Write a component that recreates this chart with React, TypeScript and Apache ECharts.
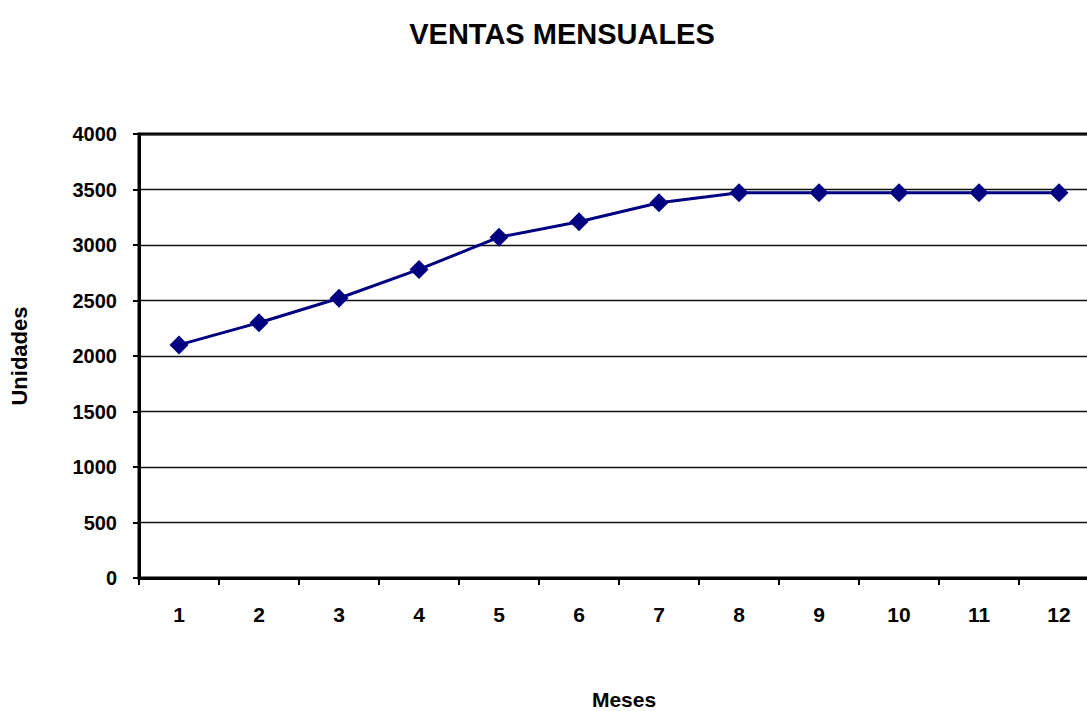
import React, { useEffect, useRef } from "react";
import * as echarts from "echarts";

const titleText = "VENTAS MENSUALES";
const months = ["1", "2", "3", "4", "5", "6", "7", "8", "9", "10", "11", "12"];
const unidades = [2100, 2300, 2520, 2780, 3070, 3210, 3380, 3470, 3470, 3470, 3470, 3470];
const yAxisName = "Unidades";
const xAxisName = "Meses";

const FONT = "'Liberation Sans', Arial, sans-serif";

export default function App() {
  const ref = useRef<HTMLDivElement>(null);
  useEffect(() => {
    if (!ref.current) return;
    const chart = echarts.init(ref.current, null, { renderer: "svg" });
    chart.setOption({
      animation: false,
      backgroundColor: "#ffffff",
      title: {
        text: titleText,
        left: 557,
        textAlign: "center",
        top: 14,
        textStyle: { fontFamily: FONT, fontSize: 29, fontWeight: "bold", color: "#000" },
      },
      grid: {
        left: 139,
        top: 134,
        bottom: 133,
        right: 1,
        show: true,
        borderColor: "#000",
        borderWidth: 3,
        backgroundColor: "transparent",
        outerBoundsMode: "none",
        containLabel: false,
      },
      xAxis: {
        type: "category",
        data: months,
        boundaryGap: true,
        name: xAxisName,
        nameLocation: "middle",
        nameGap: 112,
        nameTextStyle: {
          fontFamily: FONT,
          fontSize: 21,
          lineHeight: 18,
          fontWeight: "bold",
          color: "#000",
          padding: [0, 0, 0, 10],
        },
        axisLine: { lineStyle: { color: "#000", width: 3 } },
        axisTick: { show: true, inside: false, length: 7, alignWithLabel: false, lineStyle: { color: "#000", width: 2 } },
        axisLabel: { margin: 26, fontFamily: FONT, fontSize: 21, fontWeight: "bold", color: "#000" },
        splitLine: { show: false },
      },
      yAxis: {
        type: "value",
        min: 0,
        max: 4000,
        interval: 500,
        name: yAxisName,
        nameLocation: "middle",
        nameGap: 109,
        nameRotate: 90,
        nameTextStyle: { fontFamily: FONT, fontSize: 22, fontWeight: "bold", color: "#000" },
        axisLine: { show: true, lineStyle: { color: "#000", width: 3 } },
        axisTick: { show: true, inside: false, length: 6, lineStyle: { color: "#000", width: 2 } },
        axisLabel: {
          margin: 22,
          fontFamily: FONT,
          fontSize: 20,
          fontWeight: "bold",
          color: "#000",
          formatter: (v: number) => String(v),
        },
        splitLine: { show: true, lineStyle: { color: "#111", width: 1.3 } },
      },
      series: [
        {
          type: "line",
          data: unidades,
          symbol: "diamond",
          symbolSize: [19, 19],
          lineStyle: { color: "#000080", width: 3 },
          itemStyle: { color: "#000080" },
        },
      ],
    });
    return () => chart.dispose();
  }, []);
  return (
    <div
      style={{ position: "fixed", left: 0, top: 0, width: 1087, height: 711, overflow: "hidden", background: "#fff" }}
    >
      <div ref={ref} style={{ width: 1100, height: 711 }} />
    </div>
  );
}
